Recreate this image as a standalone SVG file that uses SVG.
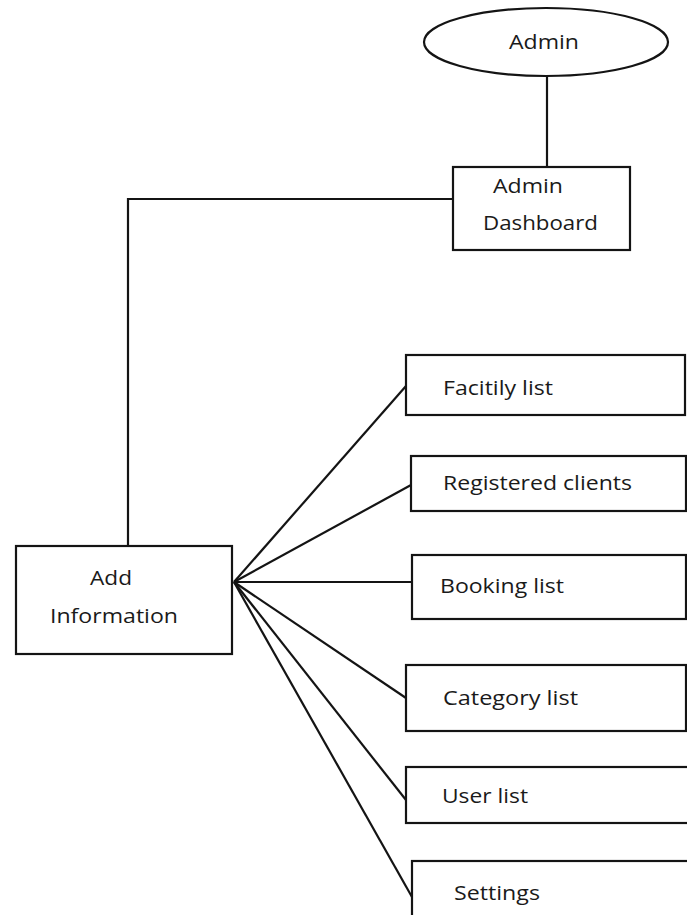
<svg xmlns="http://www.w3.org/2000/svg" width="687" height="915" viewBox="0 0 687 915">
<style>
.n{fill:#fff;stroke:#141414;stroke-width:2.2}
.c line,.c polyline{stroke:#141414;stroke-width:2.2;fill:none}
text{font-family:"Open Sans","Liberation Sans",Arial,sans-serif;font-size:20px;fill:#1a1a1a}
</style>
<rect width="687" height="915" fill="#fff"/>
<g class="c" id="connectors">
<line x1="547" y1="76" x2="547" y2="167"/>
<polyline points="453,199 128,199 128,546"/>
<line x1="234" y1="582" x2="406" y2="386"/>
<line x1="234" y1="582" x2="411" y2="485"/>
<line x1="234" y1="582" x2="412" y2="582"/>
<line x1="234" y1="582" x2="406" y2="698"/>
<line x1="234" y1="582" x2="406" y2="800"/>
<line x1="234" y1="582" x2="412" y2="897"/>
</g>
<g id="admin">
<ellipse class="n" cx="546" cy="42" rx="122" ry="34"/>
<text x="509" y="49" textLength="70" lengthAdjust="spacingAndGlyphs">Admin</text>
</g>
<g id="admin-dashboard">
<rect class="n" x="453" y="167" width="177" height="83"/>
<text x="493" y="193" textLength="70" lengthAdjust="spacingAndGlyphs">Admin</text>
<text x="483" y="230" textLength="115" lengthAdjust="spacingAndGlyphs">Dashboard</text>
</g>
<g id="add-information">
<rect class="n" x="16" y="546" width="216" height="108"/>
<text x="90" y="585" textLength="42" lengthAdjust="spacingAndGlyphs">Add</text>
<text x="50" y="623" textLength="128" lengthAdjust="spacingAndGlyphs">Information</text>
</g>
<g id="facility-list">
<rect class="n" x="406" y="355" width="279" height="60"/>
<text x="443" y="395" textLength="110" lengthAdjust="spacingAndGlyphs">Facitily list</text>
</g>
<g id="registered-clients">
<rect class="n" x="411" y="456" width="275" height="55"/>
<text x="443" y="490" textLength="189" lengthAdjust="spacingAndGlyphs">Registered clients</text>
</g>
<g id="booking-list">
<rect class="n" x="412" y="555" width="274" height="64"/>
<text x="440" y="593" textLength="124" lengthAdjust="spacingAndGlyphs">Booking list</text>
</g>
<g id="category-list">
<rect class="n" x="406" y="665" width="280" height="66"/>
<text x="443" y="705" textLength="135" lengthAdjust="spacingAndGlyphs">Category list</text>
</g>
<g id="user-list">
<rect class="n" x="406" y="767" width="300" height="56"/>
<text x="442" y="803" textLength="86" lengthAdjust="spacingAndGlyphs">User list</text>
</g>
<g id="settings">
<rect class="n" x="412" y="861" width="300" height="80"/>
<text x="454" y="900" textLength="86" lengthAdjust="spacingAndGlyphs">Settings</text>
</g>
</svg>
